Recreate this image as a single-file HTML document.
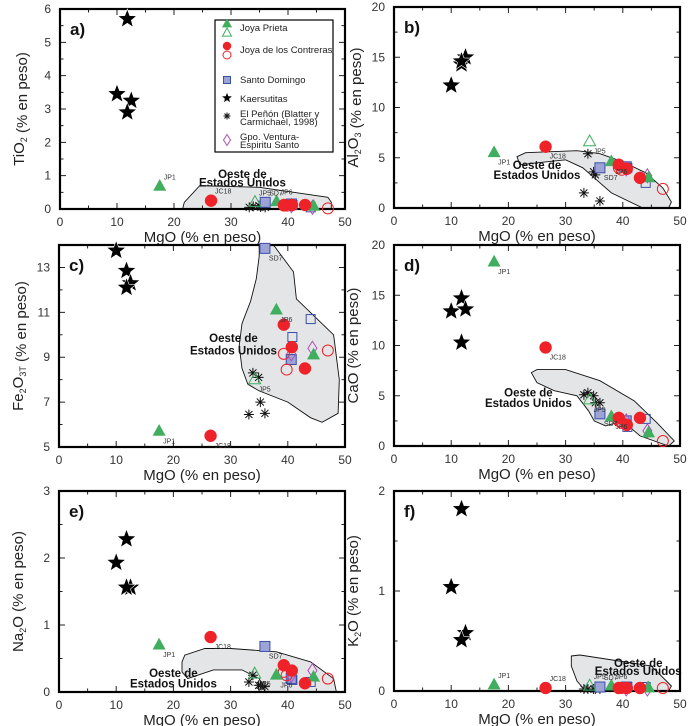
<!DOCTYPE html>
<html><head><meta charset="utf-8">
<style>
html,body{margin:0;padding:0;background:#fff;}
svg{display:block;font-family:"Liberation Sans",sans-serif;}
</style></head>
<body>
<svg id="chart" width="693" height="726" viewBox="0 0 693 726"></svg>
<script>
// ---- data (MgO wt% on x) ----
const kaerX = [10, 11.8, 12.5, 11.8];
const kaerTi = [3.45, 5.7, 3.25, 2.9];
const kaerAl = [12.2, 14.3, 15.0, 14.6];
const kaerFe = [13.75, 12.85, 12.3, 12.1];
const kaerCa = [13.4, 14.7, 13.6, 10.3];
const kaerNa = [1.93, 2.28, 1.56, 1.56];
const kaerK = [1.04, 1.82, 0.58, 0.51];

const jpX = [17.5, 38, 44.5];
const jpTi = [0.68, 0.22, 0.08];
const jpAl = [5.5, 4.6, 3.0];
const jpFe = [5.7, 11.1, 9.1];
const jpCa = [18.3, 2.9, 1.3];
const jpNa = [0.7, 0.25, 0.22];
const jpK = [0.06, 0.05, 0.03];

const jpOpenX = [34.2];
const jpOpenTi = [0.2];
const jpOpenAl = [6.6];
const jpOpenFe = [8.0];
const jpOpenCa = [4.6];
const jpOpenNa = [0.27];
const jpOpenK = [0.05];

const jcX = [26.5, 39.3, 40.7, 43];
const jcTi = [0.25, 0.12, 0.12, 0.12];
const jcAl = [6.1, 4.3, 3.9, 3.0];
const jcFe = [5.5, 10.45, 9.45, 8.5];
const jcCa = [9.8, 2.8, 2.1, 2.8];
const jcNa = [0.82, 0.4, 0.32, 0.13];
const jcK = [0.03, 0.03, 0.03, 0.03];

const jcOpenX = [39.3, 39.8, 47];
const jcOpenTi = [0.1, 0.1, 0.02];
const jcOpenAl = [4.0, 3.8, 1.9];
const jcOpenFe = [9.15, 8.45, 9.3];
const jcOpenCa = [2.5, 2.3, 0.5];
const jcOpenNa = [0.3, 0.25, 0.2];
const jcOpenK = [0.03, 0.03, 0.03];

const sdX = [36, 40.6];
const sdTi = [0.2, 0.15];
const sdAl = [4.0, 4.1];
const sdFe = [13.85, 8.9];
const sdCa = [3.2, 2.5];
const sdNa = [0.68, 0.2];
const sdK = [0.04, 0.04];

const sdOpenX = [40.8, 44];
const sdOpenTi = [0.12, 0.05];
const sdOpenAl = [4.0, 2.5];
const sdOpenFe = [9.9, 10.7];
const sdOpenCa = [1.9, 2.7];
const sdOpenNa = [0.18, 0.15];
const sdOpenK = [0.04, 0.04];

const penX = [33.9, 34.9, 35.2, 33.2, 36];
const penTi = [0.08, 0.1, 0.06, 0.05, 0.05];
const penAl = [5.4, 3.6, 3.3, 1.5, 0.7];
const penFe = [8.3, 8.1, 7.0, 6.45, 6.5];
const penCa = [5.3, 5.0, 4.3, 5.1, 4.3];
const penNa = [0.25, 0.1, 0.1, 0.15, 0.08];
const penK = [0.02, 0.02, 0.02, 0.02, 0.02];

const venX = [40.6, 44.3];
const venTi = [0.1, 0.05];
const venAl = [3.9, 3.2];
const venFe = [9.15, 9.4];
const venCa = [2.5, 1.5];
const venNa = [0.25, 0.32];
const venK = [0.02, 0.02];

const yMinArr = [0, 0, 5, 0, 0, 0];
const yMaxArr = [6, 20, 14, 20, 3, 2];
const yTicksA = [0,1,2,3,4,5,6];
const yTicksB = [0,5,10,15,20];
const yTicksC = [5,7,9,11,13];
const yTicksD = [0,5,10,15,20];
const yTicksE = [0,1,2,3];
const yTicksF = [0,1,2];
const xTicks = [0,10,20,30,40,50];

// region polygons (data coordinates, MgO / oxide)
const regA = [[21.5,0],[21.8,0.2],[24.5,0.7],[35,0.65],[47,0.35],[47.6,0.2],[47.6,0]];
const regB = [[21.5,5.1],[23,5.5],[32,5.7],[36,5.4],[40,4.6],[44,3.5],[47,2],[48.5,0.6],[48,0],[43.5,0],[38,1.5],[35,3],[33,4],[30,4.8],[25,4.5],[22,4.3]];
const regC = [[35,14],[37.5,14],[41,12.8],[41.5,11.6],[48,10],[49,8],[48.8,6.5],[46,6.1],[44,6.3],[40,7],[35,7.5],[33,7.8],[32,8.5],[31.5,9.5],[32,10.5],[33.5,11.5],[34.5,12.5],[35,13.5]];
const regD = [[24,7.3],[25,7.6],[30,7.6],[36,6.5],[42,4.5],[46,2.3],[49,0.5],[48,0],[43,1],[40,2.5],[37,2],[35,2.5],[34,3.5],[32,5],[28,5.5],[25,6.3]];
const regE = [[21.5,0.45],[22,0.55],[25.5,0.65],[30,0.65],[38,0.6],[44,0.45],[48,0.2],[48.5,0],[36,0],[35,0.2],[32,0.33],[27,0.33],[22.5,0.2],[21.5,0.3]];
const regF = [[31,0.35],[32.5,0.36],[45,0.25],[48.5,0.05],[48,0],[33.5,0],[32,0.1],[31,0.25]];

// ---- layout ----
const panels = [
 {id:'a',L:60,R:345,T:9,B:209,lab:'a)',yt:yTicksA,minor:0.5,reg:regA,title:['TiO','2',''],txt:[32,1.05,0.8],
  k:kaerTi,jp:jpTi,jpo:jpOpenTi,jc:jcTi,jco:jcOpenTi,sd:sdTi,sdo:sdOpenTi,pe:penTi,ve:venTi},
 {id:'b',L:394,R:680,T:7,B:208,lab:'b)',yt:yTicksB,minor:2.5,reg:regB,title:['Al','2','O','3'],txt:[25,4.3,3.3],
  k:kaerAl,jp:jpAl,jpo:jpOpenAl,jc:jcAl,jco:jcOpenAl,sd:sdAl,sdo:sdOpenAl,pe:penAl,ve:venAl},
 {id:'c',L:59,R:345,T:245,B:447,lab:'c)',yt:yTicksC,minor:1,reg:regC,title:['Fe','2','O','3T'],txt:[30.5,9.85,9.3],
  k:kaerFe,jp:jpFe,jpo:jpOpenFe,jc:jcFe,jco:jcOpenFe,sd:sdFe,sdo:sdOpenFe,pe:penFe,ve:venFe},
 {id:'d',L:394,R:680,T:245,B:446,lab:'d)',yt:yTicksD,minor:2.5,reg:regD,title:['CaO'],txt:[23.5,5.3,4.3],
  k:kaerCa,jp:jpCa,jpo:jpOpenCa,jc:jcCa,jco:jcOpenCa,sd:sdCa,sdo:sdOpenCa,pe:penCa,ve:venCa},
 {id:'e',L:59,R:345,T:491,B:692,lab:'e)',yt:yTicksE,minor:0.5,reg:regE,title:['Na','2','O'],txt:[20,0.28,0.13],
  k:kaerNa,jp:jpNa,jpo:jpOpenNa,jc:jcNa,jco:jcOpenNa,sd:sdNa,sdo:sdOpenNa,pe:penNa,ve:venNa},
 {id:'f',L:394,R:680,T:491,B:691,lab:'f)',yt:yTicksF,minor:0.5,reg:regF,title:['K','2','O'],txt:[42.7,0.28,0.2],
  k:kaerK,jp:jpK,jpo:jpOpenK,jc:jcK,jco:jcOpenK,sd:sdK,sdo:sdOpenK,pe:penK,ve:venK}
];
const NS='http://www.w3.org/2000/svg';
const svg=document.getElementById('chart');
function mk(tag,attrs,parent){const e=document.createElementNS(NS,tag);for(const k in attrs)e.setAttribute(k,attrs[k]);(parent||svg).appendChild(e);return e;}
const GREEN='#3fae5e', RED='#ee2228', BLUE='#3a4fa8', SQF='#9da3d6', PURP='#b04fb6';

function star(g,cx,cy,r,name){let p=[];for(let i=0;i<10;i++){const rr=i%2?r*0.42:r;const a=-Math.PI/2+i*Math.PI/5;p.push((cx+rr*Math.cos(a)).toFixed(1)+','+(cy+rr*Math.sin(a)).toFixed(1));}
 const e=mk('polygon',{points:p.join(' '),fill:'#000',stroke:'#fff','stroke-width':0.6},g);
 
 }
function tri(g,cx,cy,s,filled,name){const h=s*0.9;const e=mk('polygon',{points:`${cx},${cy-h*0.62} ${cx-s/2},${cy+h*0.38} ${cx+s/2},${cy+h*0.38}`,fill:filled?GREEN:'none',stroke:GREEN,'stroke-width':filled?0.6:1},g);
 
 }
function circ(g,cx,cy,r,filled,name){const e=mk('circle',{cx,cy,r,fill:filled?RED:'none',stroke:RED,'stroke-width':filled?0.5:1},g);
 
 }
function sq(g,cx,cy,s,filled,name){const e=mk('rect',{x:cx-s/2,y:cy-s/2,width:s,height:s,fill:filled?SQF:'none',stroke:BLUE,'stroke-width':1},g);
 
 }
function ast(g,cx,cy,r,name){let d='';for(let i=0;i<4;i++){const a=i*Math.PI/4;d+=`M${cx-r*Math.cos(a)},${cy-r*Math.sin(a)}L${cx+r*Math.cos(a)},${cy+r*Math.sin(a)}`;}
 const e=mk('path',{d,stroke:'#111','stroke-width':1,fill:'none'},g);
 
 }
function dia(g,cx,cy,w,h,name){const e=mk('polygon',{points:`${cx},${cy-h/2} ${cx+w/2},${cy} ${cx},${cy+h/2} ${cx-w/2},${cy}`,fill:'none',stroke:PURP,'stroke-width':1},g);
 
 }

panels.forEach((P,pi)=>{
 const g=mk('g',{});
 
 
 const y0=yMinArr[pi], y1=yMaxArr[pi];
 const sx=v=>P.L+(v-0)/(50-0)*(P.R-P.L);
 const sy=v=>P.B-(v-y0)/(y1-y0)*(P.B-P.T);
 const clipId='clip'+P.id;
 const cp=mk('clipPath',{id:clipId},g);mk('rect',{x:P.L,y:P.T,width:P.R-P.L,height:P.B-P.T},cp);
 const rg=mk('polygon',{points:P.reg.map(p=>sx(p[0]).toFixed(1)+','+sy(p[1]).toFixed(1)).join(' '),fill:'#e4e5e7',stroke:'#111','stroke-width':0.9,'clip-path':`url(#${clipId})`},g);
 
 
 const rt=mk('text',{x:sx(P.txt[0]),y:sy(P.txt[1])+4,'font-size':11.5,'font-weight':'bold','text-anchor':'middle',fill:'#111'},g);rt.textContent='Oeste de';
 
 
 const rt2=mk('text',{x:sx(P.txt[0]),y:sy(P.txt[2])+4,'font-size':11.5,'font-weight':'bold','text-anchor':'middle',fill:'#111'},g);rt2.textContent='Estados Unidos';
 
 
 let td='';
 for(let v=0;v<=50;v+=5){const x=sx(v);const len=v%10===0?6:3.5;td+=`M${x},${P.B}v${-len}M${x},${P.T}v${len}`;}
 for(let v=y0;v<=y1+1e-9;v+=P.minor){const y=sy(v);const maj=P.yt.some(t=>Math.abs(t-v)<1e-6);const len=maj?6:3.5;td+=`M${P.L},${y}h${len}M${P.R},${y}h${-len}`;}
 mk('path',{d:td,stroke:'#222','stroke-width':1,fill:'none'},g);
 xTicks.forEach(v=>{const t=mk('text',{x:sx(v),y:P.B+17,'font-size':12,'text-anchor':'middle',fill:'#333'},g);t.textContent=v;
  
  });
 P.yt.forEach(v=>{const t=mk('text',{x:P.L-9,y:sy(v)+4,'font-size':12,'text-anchor':'end',fill:'#333'},g);t.textContent=v;
  
  });
 const fr=mk('rect',{x:P.L,y:P.T,width:P.R-P.L,height:P.B-P.T,fill:'none',stroke:'#000','stroke-width':2.2},g);
 
 
 const pl=mk('text',{x:P.L+10,y:P.T+26,'font-size':17,'font-weight':'bold',fill:'#111'},g);pl.textContent=P.lab;
 
 
 const xt=mk('text',{x:(P.L+P.R)/2,y:P.B+33,'font-size':15,'text-anchor':'middle',fill:'#222'},g);
 xt.textContent='MgO (% en peso)';
 
 
 const cx=P.L-36, cy=(P.T+P.B)/2;
 const yt=mk('text',{x:cx,y:cy,'font-size':15,'text-anchor':'middle',fill:'#222',transform:`rotate(-90 ${cx} ${cy})`},g);
 const tt=P.title;let html='';
 tt.forEach((s,i)=>{ if(i%2===1) html+=`<tspan font-size="9" dy="3">${s}</tspan>`; else html+=`<tspan dy="${i>0?-3:0}">${s}</tspan>`;});
 html+=`<tspan dy="0"> (% en peso)</tspan>`;
 yt.innerHTML=html;
 
 
 const mg=mk('g',{},g);
 penX.forEach((x,i)=>ast(mg,sx(x),sy(P.pe[i]),5,'el-penon-point'));
 sdX.forEach((x,i)=>sq(mg,sx(x),sy(P.sd[i]),10,true,'santo-domingo-point'));
 sdOpenX.forEach((x,i)=>sq(mg,sx(x),sy(P.sdo[i]),9,false,'santo-domingo-open-point'));
 jcOpenX.forEach((x,i)=>circ(mg,sx(x),sy(P.jco[i]),5.5,false,'joya-contreras-open-point'));
 venX.forEach((x,i)=>dia(mg,sx(x),sy(P.ve[i]),9,14,'ventura-point'));
 jpX.forEach((x,i)=>tri(mg,sx(x),sy(P.jp[i]),12,true,'joya-prieta-point'));
 jpOpenX.forEach((x,i)=>tri(mg,sx(x),sy(P.jpo[i]),12,false,'joya-prieta-open-point'));
 jcX.forEach((x,i)=>circ(mg,sx(x),sy(P.jc[i]),6,true,'joya-contreras-point'));
 kaerX.forEach((x,i)=>star(mg,sx(x),sy(P.k[i]),10,'kaersutite-point'));
 const labs=[['JP1',jpX[0],P.jp[0]],['JC18',jcX[0],P.jc[0]],['SD7',sdX[0],P.sd[0]],['JP5',jpOpenX[0],P.jpo[0]],['JP6',jpX[1],P.jp[1]]];
 labs.forEach(l=>{const t=mk('text',{x:sx(l[1])+4,y:sy(l[2])+(pi===0||pi===5?-7:12),'font-size':7,fill:'#333'},g);t.textContent=l[0];
  
  });
});

const lg=mk('g',{});


mk('rect',{x:215,y:20,width:118,height:132,fill:'#fff',stroke:'#000','stroke-width':1.2},lg);
const entries=[['Joya Prieta',27],['Joya de los Contreras',49],['Santo Domingo',79],['Kaersutitas',98],['El Peñón (Blatter y',113],['Carmichael, 1998)',121],['Gpo. Ventura-',136],['Espiritu Santo',144]];
entries.forEach(e=>{const t=mk('text',{x:240,y:e[1]+4,'font-size':9.5,fill:'#222'},lg);t.textContent=e[0];
 
 });
tri(lg,227,24,9,true,'legend-jp-filled');tri(lg,227,33,9,false,'legend-jp-open');
circ(lg,227,46,4,true,'legend-jc-filled');circ(lg,227,55,4,false,'legend-jc-open');
sq(lg,227,80,7,true,'legend-sd');star(lg,227,98,6,'legend-kaer');ast(lg,227,116,3.5,'legend-penon');dia(lg,227,140,7,11,'legend-ventura');
</script>
</body></html>
